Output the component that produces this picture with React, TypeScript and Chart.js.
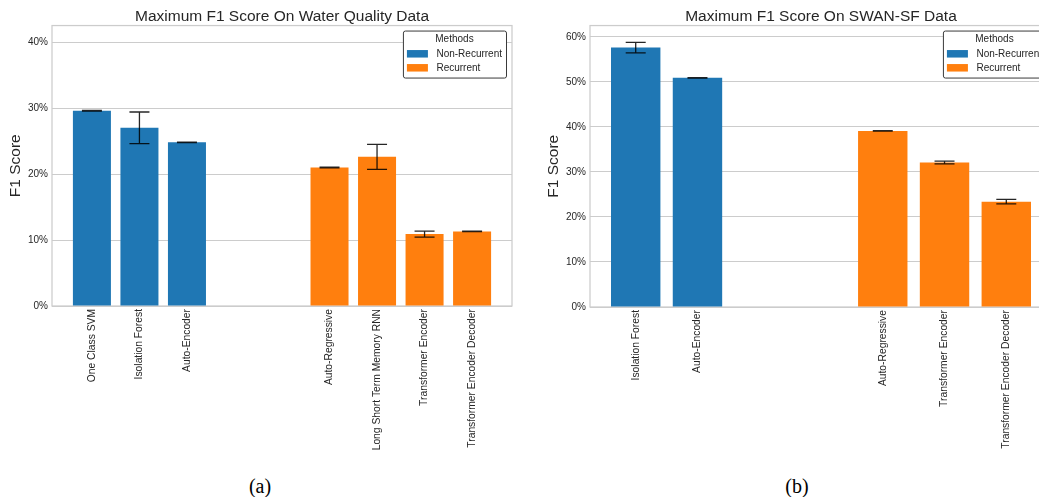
import React, { useEffect, useRef } from "react";
import { Chart, registerables } from "chart.js";

Chart.register(...registerables);

const FAMILY = '"Liberation Sans", Arial, sans-serif';
const TEXT_COLOR = "#262626";
const GRID_COLOR = "#cccccc";

const seriesNames = ["Non-Recurrent", "Recurrent"];
const seriesColors = ["#1f77b4", "#ff7f0e"];

// Water Quality results (blank names leave an empty slot between the groups)
const waterMethods = [
  "One Class SVM",
  "Isolation Forest",
  "Auto-Encoder",
  "",
  "",
  "Auto-Regressive",
  "Long Short Term Memory RNN",
  "Transformer Encoder",
  "Transformer Encoder Decoder",
];
const waterF1 = [29.6, 27.0, 24.8, null, null, 21.0, 22.6, 10.9, 11.3];
const waterStd = [0.05, 2.4, 0.03, null, null, 0.05, 1.9, 0.45, 0.03];
const waterRecurrent = [false, false, false, null, null, true, true, true, true];
const waterYTicks = [0, 10, 20, 30, 40];

// SWAN-SF results
const swanMethods = [
  "Isolation Forest",
  "Auto-Encoder",
  "",
  "",
  "Auto-Regressive",
  "Transformer Encoder",
  "Transformer Encoder Decoder",
];
const swanF1 = [57.6, 50.9, null, null, 39.1, 32.1, 23.4];
const swanStd = [1.15, 0.05, null, null, 0.05, 0.3, 0.5];
const swanRecurrent = [false, false, null, null, true, true, true];
const swanYTicks = [0, 10, 20, 30, 40, 50, 60];

type PanelProps = {
  title: string;
  methods: string[];
  f1: (number | null)[];
  std: (number | null)[];
  recurrent: (boolean | null)[];
  yTicks: number[];
  yMax: number;
  width: number;
  height: number;
  yAxisWidth: number;
  yTitlePad: number;
  rightPad: number;
  xAxisHeight: number;
};

function BarPanel(props: PanelProps) {
  const ref = useRef<HTMLCanvasElement | null>(null);

  useEffect(() => {
    const {
      title, methods, f1, std, recurrent, yTicks, yMax,
      yAxisWidth, yTitlePad, rightPad, xAxisHeight,
    } = props;
    const canvas = ref.current;
    if (!canvas) return;

    const n = methods.length;
    const margin = 0.05 * (n - 1 + 0.8);

    const datasets = seriesNames.map((name, s) => ({
      label: name,
      backgroundColor: seriesColors[s],
      borderWidth: 0,
      grouped: false,
      categoryPercentage: 1,
      barPercentage: 0.8,
      data: f1
        .map((v, i) => ({ x: i, y: v, rec: recurrent[i] }))
        .filter((p) => p.y !== null && p.rec === (s === 1))
        .map((p) => ({ x: p.x, y: p.y as number })),
    }));

    const framePlugin = {
      id: "frame",
      beforeDatasetsDraw(chart: any) {
        const { ctx, chartArea: a } = chart;
        ctx.save();
        ctx.strokeStyle = GRID_COLOR;
        ctx.lineWidth = 1.25;
        ctx.strokeRect(a.left, a.top, a.right - a.left, a.bottom - a.top);
        ctx.restore();
      },
    };

    const errorBarPlugin = {
      id: "errorBars",
      afterDatasetsDraw(chart: any) {
        const { ctx } = chart;
        const xs = chart.scales.x;
        const ys = chart.scales.y;
        ctx.save();
        ctx.strokeStyle = "rgba(0,0,0,0.85)";
        ctx.lineWidth = 1.3;
        f1.forEach((v, i) => {
          const e = std[i];
          if (v === null || e === null) return;
          const x = xs.getPixelForValue(i);
          const yHi = ys.getPixelForValue(v + e);
          const yLo = ys.getPixelForValue(v - e);
          ctx.beginPath();
          ctx.moveTo(x, yHi);
          ctx.lineTo(x, yLo);
          ctx.moveTo(x - 10, yHi);
          ctx.lineTo(x + 10, yHi);
          ctx.moveTo(x - 10, yLo);
          ctx.lineTo(x + 10, yLo);
          ctx.stroke();
        });
        ctx.restore();
      },
    };

    const legendPlugin = {
      id: "methodsLegend",
      afterDraw(chart: any) {
        const { ctx, chartArea: a } = chart;
        ctx.save();
        ctx.font = `10px ${FAMILY}`;
        const tw = Math.max(...seriesNames.map((s) => ctx.measureText(s).width));
        const w = 4 + 21 + 8.5 + tw + 4;
        const h = 47;
        const x0 = a.right - 6 - w;
        const y0 = a.top + 5;
        ctx.beginPath();
        ctx.roundRect(x0 + 0.5, y0 + 0.5, w, h, 2);
        ctx.fillStyle = "#ffffff";
        ctx.fill();
        ctx.strokeStyle = "#3a3a3a";
        ctx.lineWidth = 1;
        ctx.stroke();
        ctx.fillStyle = TEXT_COLOR;
        ctx.textBaseline = "middle";
        ctx.textAlign = "center";
        ctx.fillText("Methods", x0 + w / 2, y0 + 8.5);
        ctx.textAlign = "left";
        seriesNames.forEach((s, k) => {
          const py = y0 + 19.5 + k * 14;
          ctx.fillStyle = seriesColors[k];
          ctx.fillRect(x0 + 4, py, 21, 7.5);
          ctx.fillStyle = TEXT_COLOR;
          ctx.fillText(s, x0 + 33.5, py + 4);
        });
        ctx.restore();
      },
    };

    const chart = new Chart(canvas, {
      type: "bar",
      data: { datasets: datasets as any },
      options: {
        animation: false,
        responsive: false,
        maintainAspectRatio: false,
        layout: { padding: { left: 0, right: rightPad, top: 0, bottom: 0 } },
        plugins: {
          legend: { display: false },
          tooltip: { enabled: false },
          title: {
            display: true,
            text: title,
            fullSize: false,
            color: TEXT_COLOR,
            font: { family: FAMILY, size: 15.5, weight: "normal", lineHeight: 1.1 },
            padding: { top: 8.5, bottom: 0 },
          },
        },
        scales: {
          x: {
            type: "linear",
            offset: false,
            min: -0.4 - margin,
            max: n - 1 + 0.4 + margin,
            grid: { display: false, drawTicks: false },
            border: { display: false },
            afterBuildTicks: (scale: any) => {
              scale.ticks = methods
                .map((m, i) => (m ? { value: i } : null))
                .filter((t) => t !== null);
            },
            afterFit: (scale: any) => {
              scale.height = xAxisHeight;
            },
            ticks: {
              autoSkip: false,
              minRotation: 90,
              maxRotation: 90,
              padding: 3,
              color: TEXT_COLOR,
              font: { family: FAMILY, size: 10.3 },
              callback: (v: any) => methods[Math.round(Number(v))] ?? "",
            },
          },
          y: {
            min: 0,
            max: yMax,
            afterBuildTicks: (scale: any) => {
              scale.ticks = yTicks.map((v) => ({ value: v }));
            },
            afterFit: (scale: any) => {
              scale.width = yAxisWidth;
            },
            grid: { color: GRID_COLOR, lineWidth: 1, drawTicks: false },
            border: { display: false },
            ticks: {
              padding: 4,
              color: TEXT_COLOR,
              font: { family: FAMILY, size: 10 },
              callback: (v: any) => `${v}%`,
            },
            title: {
              display: true,
              text: "F1 Score",
              color: TEXT_COLOR,
              font: { family: FAMILY, size: 15.5 },
              padding: { top: yTitlePad, bottom: 0 },
            },
          },
        },
      } as any,
      plugins: [framePlugin, errorBarPlugin, legendPlugin],
    });

    return () => chart.destroy();
  }, []);

  return (
    <canvas
      ref={ref}
      width={props.width}
      height={props.height}
      style={{ width: props.width, height: props.height, display: "block" }}
    />
  );
}

const captionStyle: React.CSSProperties = {
  position: "absolute",
  top: 474,
  width: 60,
  textAlign: "center",
  fontFamily: '"Liberation Serif", "Times New Roman", serif',
  fontSize: 20,
  lineHeight: "24px",
  color: "#000",
};

export default function App() {
  return (
    <div
      style={{
        position: "absolute",
        left: 0,
        top: 0,
        width: 1039,
        height: 497,
        overflow: "hidden",
        background: "#ffffff",
      }}
    >
      <div style={{ position: "absolute", left: 0, top: 0 }}>
        <BarPanel
          title="Maximum F1 Score On Water Quality Data"
          methods={waterMethods}
          f1={waterF1}
          std={waterStd}
          recurrent={waterRecurrent}
          yTicks={waterYTicks}
          yMax={42.5}
          width={520}
          height={460}
          yAxisWidth={52}
          yTitlePad={6}
          rightPad={8}
          xAxisHeight={154}
        />
      </div>
      <div style={{ position: "absolute", left: 520, top: 0 }}>
        <BarPanel
          title="Maximum F1 Score On SWAN-SF Data"
          methods={swanMethods}
          f1={swanF1}
          std={swanStd}
          recurrent={swanRecurrent}
          yTicks={swanYTicks}
          yMax={62.5}
          width={540}
          height={460}
          yAxisWidth={70}
          yTitlePad={24}
          rightPad={8}
          xAxisHeight={153}
        />
      </div>
      <div style={{ ...captionStyle, left: 230 }}>(a)</div>
      <div style={{ ...captionStyle, left: 767 }}>(b)</div>
    </div>
  );
}
